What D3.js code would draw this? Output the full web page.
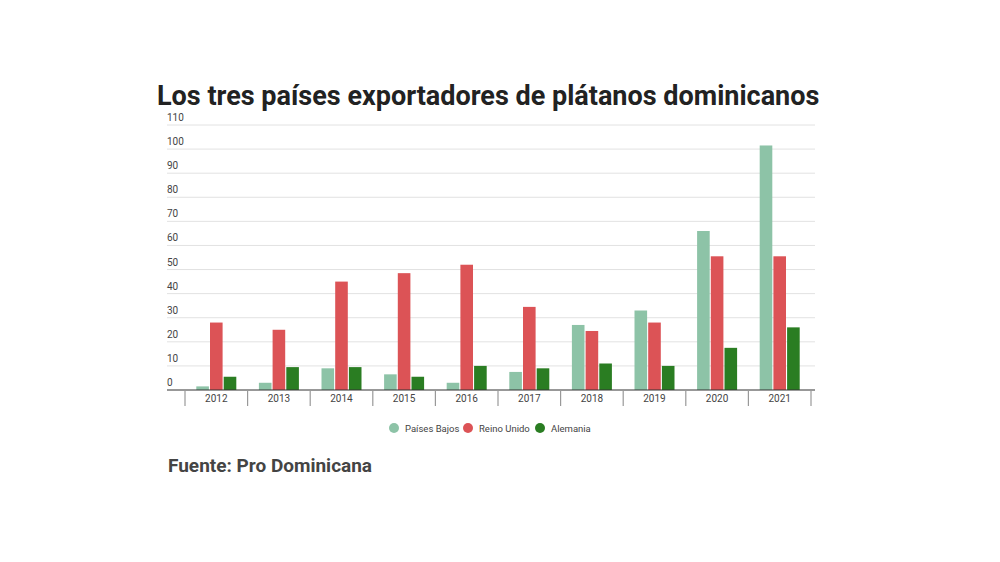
<!DOCTYPE html><html><head><meta charset="utf-8">
<script src="https://cdn.jsdelivr.net/npm/d3@7"></script>
<style>body{margin:0;background:#fff;font-family:Roboto,sans-serif}</style></head><body>
<svg id="c" width="1000" height="562"></svg>
<script>
const years=["2012","2013","2014","2015","2016","2017","2018","2019","2020","2021"];
const seriesNames=["Países Bajos","Reino Unido","Alemania"];
const paisesBajos=[1.5,3,9,6.5,3,7.5,27,33,66,101.5];
const reinoUnido=[28,25,45,48.5,52,34.5,24.5,28,55.5,55.5];
const alemania=[5.5,9.5,9.5,5.5,10,9,11,10,17.5,26];
const yTicks=[0,10,20,30,40,50,60,70,80,90,100,110];
const colors=["#8dc3a7","#dc5356","#2a7d22"];
const svg=d3.select("#c");
const y=d3.scaleLinear().domain([0,110]).range([390,125]);
const x=d3.scaleBand().domain(years).range([185,811]);
const xs=d3.scaleBand().domain([0,1,2]).range([0,40]).paddingInner(0.08);
svg.append("text").attr("x",157).attr("y",105).attr("font-size",27).attr("font-weight",700).attr("fill","#222").text("Los tres países exportadores de plátanos dominicanos");
yTicks.forEach(t=>{
  if(t>0)svg.append("line").attr("x1",167).attr("x2",815).attr("y1",y(t)).attr("y2",y(t)).attr("stroke","#e2e2e2");
  svg.append("text").attr("x",167).attr("y",y(t)-4).attr("font-size",10).attr("fill","#444").text(t);
});
const data=[paisesBajos,reinoUnido,alemania];
data.forEach((arr,si)=>{
  svg.append("g").selectAll("rect").data(arr).join("rect")
   .attr("x",(d,i)=>x(years[i])+(x.bandwidth()-40)/2+xs(si)).attr("width",xs.bandwidth())
   .attr("y",d=>y(d)).attr("height",d=>390-y(d)).attr("fill",colors[si]);
});
svg.append("line").attr("x1",167).attr("x2",815).attr("y1",390).attr("y2",390).attr("stroke","#333").attr("stroke-width",1.2);
const ax=svg.append("g").attr("transform","translate(0,390)");
[...years.map(d=>x(d)),811].forEach(v=>ax.append("line").attr("x1",v).attr("x2",v).attr("y1",0).attr("y2",16).attr("stroke","#999").attr("stroke-width",1.2));
years.forEach(d=>ax.append("text").attr("x",x(d)+x.bandwidth()/2).attr("y",12).attr("text-anchor","middle").attr("font-size",10).attr("fill","#444").text(d));
const lx=[394,468,540];
seriesNames.forEach((n,i)=>{
  svg.append("circle").attr("cx",lx[i]).attr("cy",428).attr("r",5).attr("fill",colors[i]);
  svg.append("text").attr("x",lx[i]+11).attr("y",431.5).attr("font-size",9.5).attr("fill","#444").text(n);
});
svg.append("text").attr("x",168).attr("y",472).attr("font-size",19).attr("font-weight",700).attr("fill","#444").text("Fuente: Pro Dominicana");
</script></body></html>
